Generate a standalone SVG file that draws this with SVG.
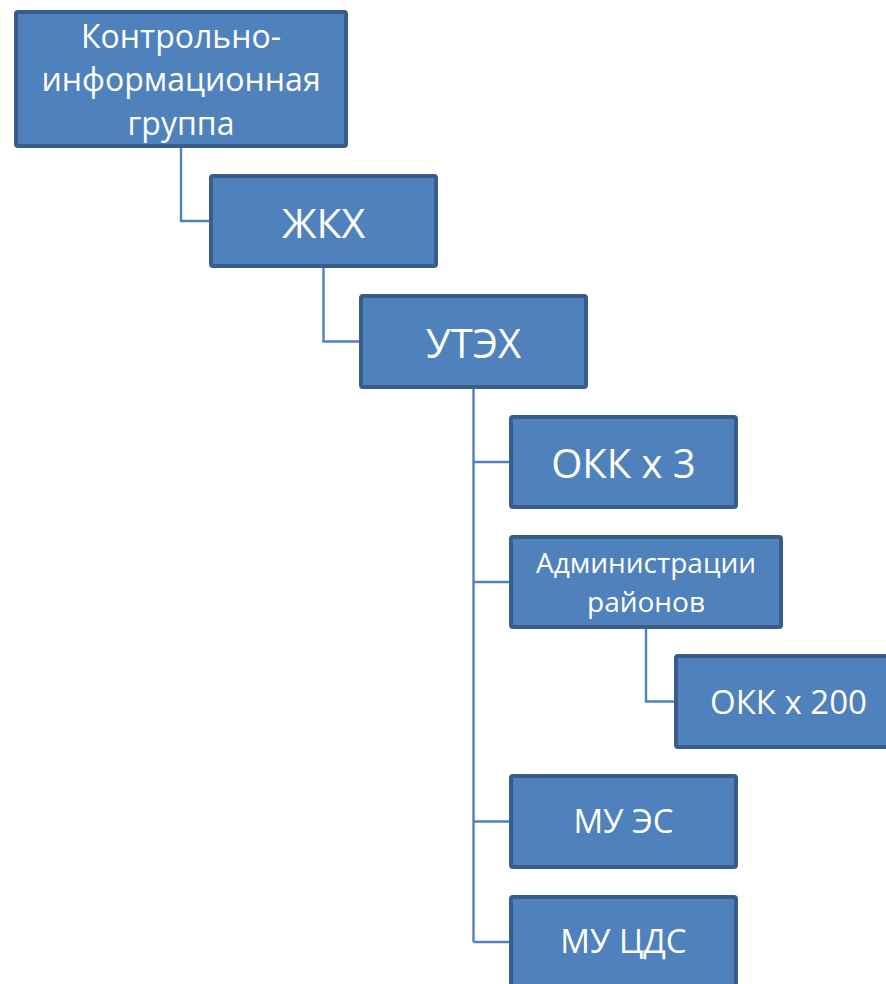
<svg xmlns="http://www.w3.org/2000/svg" width="886" height="984" viewBox="0 0 886 984">
<style>
.box{fill:#4F81BD;stroke:#385D8A;stroke-width:4}
.t{fill:#FFFFFF;font-family:"Open Sans","Noto Sans",sans-serif;text-anchor:middle}
.c{fill:none;stroke:#4F81BD;stroke-width:2.4}
</style>
<rect width="886" height="984" fill="#FFFFFF"/>
<g id="connectors">
<path class="c" d="M181,148 V221 H211"/>
<path class="c" d="M323.5,268 V341.5 H361"/>
<path class="c" d="M473.5,389 V942"/>
<path class="c" d="M473.5,462 H511"/>
<path class="c" d="M473.5,582 H511"/>
<path class="c" d="M473.5,821.5 H511"/>
<path class="c" d="M473.5,942 H511"/>
<path class="c" d="M646,629 V701.5 H676"/>
</g>
<g id="n-kig">
<rect class="box" x="16" y="12" width="330" height="134" rx="2"/>
<text class="t" x="181" y="48" font-size="32">Контрольно-</text>
<text class="t" x="181" y="91" font-size="32">информационная</text>
<text class="t" x="181" y="135" font-size="32">группа</text>
</g>
<g id="n-zhkh">
<rect class="box" x="211" y="176" width="225" height="90" rx="2"/>
<text class="t" x="323.5" y="238" font-size="41">ЖКХ</text>
</g>
<g id="n-uteh">
<rect class="box" x="361" y="296" width="225" height="91" rx="2"/>
<text class="t" x="473.5" y="357.5" font-size="40">УТЭХ</text>
</g>
<g id="n-okk3">
<rect class="box" x="511" y="417" width="225" height="90" rx="2"/>
<text class="t" x="623.5" y="477.5" font-size="40">ОКК x 3</text>
</g>
<g id="n-adm">
<rect class="box" x="511" y="537" width="270" height="90" rx="2"/>
<text class="t" x="646" y="572.5" font-size="28">Администрации</text>
<text class="t" x="646" y="611.5" font-size="28">районов</text>
</g>
<g id="n-okk200">
<rect class="box" x="676" y="656" width="225" height="91" rx="2"/>
<text class="t" x="788.5" y="713.5" font-size="33">ОКК x 200</text>
</g>
<g id="n-mues">
<rect class="box" x="511" y="776" width="225" height="91" rx="2"/>
<text class="t" x="623.5" y="833" font-size="33">МУ ЭС</text>
</g>
<g id="n-mucds">
<rect class="box" x="511" y="897" width="225" height="90" rx="2"/>
<text class="t" x="623.5" y="953" font-size="33">МУ ЦДС</text>
</g>
</svg>
